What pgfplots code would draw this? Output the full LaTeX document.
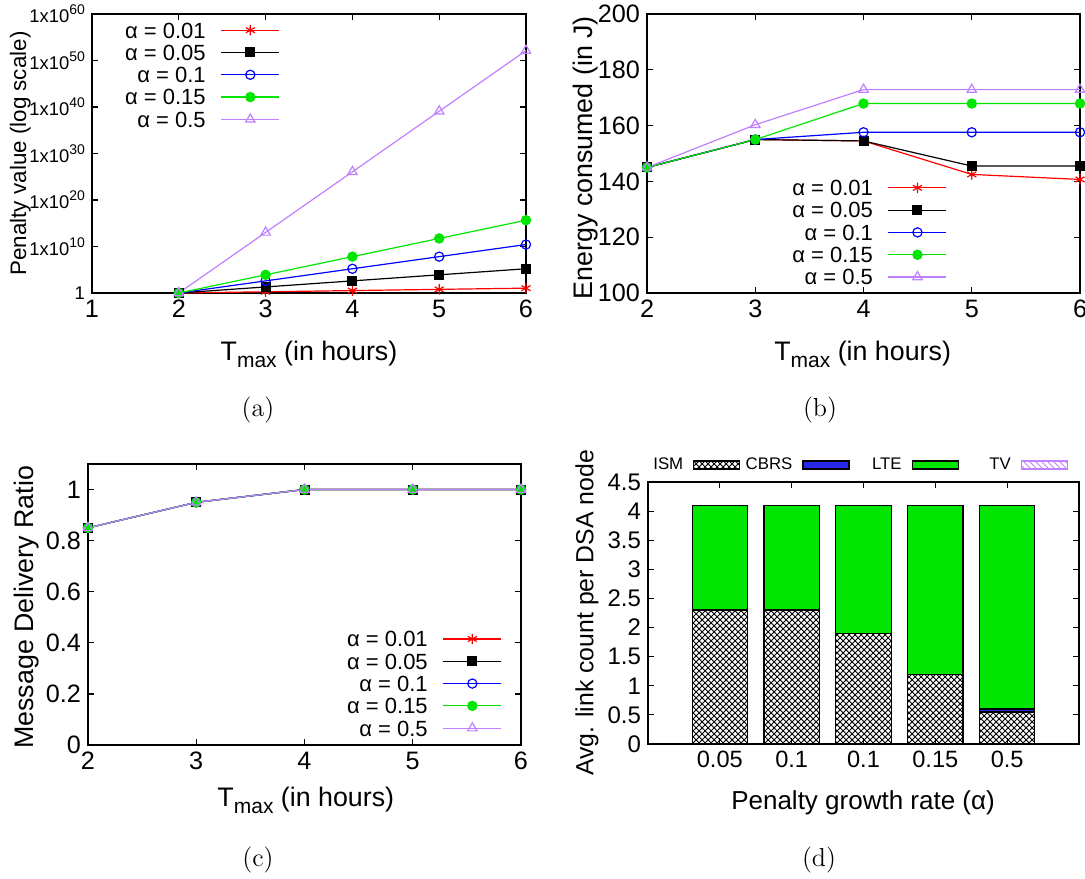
\documentclass[border=0pt]{standalone}
\usepackage{fontspec}
\setsansfont{Liberation Sans}
\usepackage{pgfplots}
\pgfplotsset{compat=1.18}
\usetikzlibrary{patterns}
\definecolor{cgreen}{RGB}{0,230,0}
\definecolor{cpurple}{RGB}{192,128,255}
\newcommand{\tp}[1]{1x10\raisebox{0.8ex}{\fontsize{7}{8}\selectfont #1}}
\pgfplotsset{
  gp/.style={
    scale only axis, anchor=south west, clip=false,
    axis line style={line width=0.75pt},
    every tick/.style={black, line width=0.6pt},
    major tick length=3pt,
    font=\sffamily,
    tick label style={font=\fontsize{12.6}{14}\selectfont\sffamily},
    label style={font=\fontsize{13.4}{16}\selectfont\sffamily},
    /pgf/number format/assume math mode=true,
    legend style={draw=none, fill=none, inner sep=0pt, outer sep=0pt,
      font=\fontsize{11}{13}\selectfont\sffamily,
      nodes={inner sep=0pt, text height=9.5pt, text depth=1.65pt},
      column sep=7.5pt, row sep=0pt},
    legend plot pos=right,
    legend cell align=right,
    legend image code/.code={\draw[mark repeat=2,mark phase=2,##1] plot coordinates {(0pt,0pt)(14.5pt,0pt)(29pt,0pt)};},
  },
  s1/.style={color=red, mark=asterisk, mark size=2.6pt, line width=0.6pt, mark options={solid}},
  s2/.style={color=black, mark=square*, mark size=2.2pt, line width=0.6pt},
  s3/.style={color=blue, mark=o, mark size=2.3pt, line width=0.6pt},
  s4/.style={color=cgreen, mark=*, mark size=2.3pt, line width=0.6pt},
  s5/.style={color=cpurple, mark=triangle, mark size=2.7pt, line width=0.6pt},
}
\begin{document}
\begin{tikzpicture}
\useasboundingbox (0,0) rectangle (542.5pt,439pt);
% ---------------- (a)
\begin{axis}[gp, at={(46pt,292.5pt)}, width=217pt, height=139.5pt,
  xmin=1, xmax=6, ymode=log, ymin=1, ymax=1e60,
  xtick={1,2,3,4,5,6},
  ytick={1,1e10,1e20,1e30,1e40,1e50,1e60}, minor ytick={},
  yticklabels={1,\tp{10},\tp{20},\tp{30},\tp{40},\tp{50},\tp{60}},
  yticklabel style={font=\fontsize{9.2}{10}\selectfont\sffamily},
  ylabel={Penalty value (log scale)},
  ylabel style={at={(axis description cs:-0.165,0.5)}, anchor=center, font=\fontsize{11.2}{13}\selectfont\sffamily},
  xlabel={T\raisebox{-0.5ex}{\fontsize{10.5}{12}\selectfont max} (in hours)},
  xlabel style={at={(axis description cs:0.5,-0.22)}, anchor=center},
  legend style={at={(axis description cs:0.433,0.982)}, anchor=north east},
]
\addplot[s1] coordinates {(2,1) (3,1.82) (4,3.32) (5,6.05) (6,11.0)};
\addlegendentry{α = 0.01}
\addplot[s2] coordinates {(2,1) (3,20.1) (4,403) (5,8100) (6,1.63e5)};
\addlegendentry{α = 0.05}
\addplot[s3] coordinates {(2,1) (3,403) (4,1.63e5) (5,6.6e7) (6,2.65e10)};
\addlegendentry{α = 0.1}
\addplot[s4] coordinates {(2,1) (3,8100) (4,6.6e7) (5,5.4e11) (6,4.4e15)};
\addlegendentry{α = 0.15}
\addplot[s5] coordinates {(2,1) (3,1.07e13) (4,1.15e26) (5,1.23e39) (6,1.32e52)};
\addlegendentry{α = 0.5}
\end{axis}
% ---------------- (b)
\begin{axis}[gp, at={(323.5pt,292.5pt)}, width=216.5pt, height=139.5pt,
  xmin=2, xmax=6, ymin=100, ymax=200,
  xtick={2,3,4,5,6}, ytick={100,120,140,160,180,200},
  ylabel={Energy consumed (in J)},
  ylabel style={at={(axis description cs:-0.141,0.485)}, anchor=center},
  xlabel={T\raisebox{-0.5ex}{\fontsize{10.5}{12}\selectfont max} (in hours)},
  xlabel style={at={(axis description cs:0.498,-0.22)}, anchor=center},
  legend style={at={(axis description cs:0.693,0.417)}, anchor=north east},
]
\addplot[s1] coordinates {(2,145) (3,155) (4,154.5) (5,142.5) (6,140.7)};
\addlegendentry{α = 0.01}
\addplot[s2] coordinates {(2,145) (3,155) (4,154.5) (5,145.5) (6,145.5)};
\addlegendentry{α = 0.05}
\addplot[s3] coordinates {(2,145) (3,155) (4,157.6) (5,157.6) (6,157.6)};
\addlegendentry{α = 0.1}
\addplot[s4] coordinates {(2,145) (3,155) (4,167.9) (5,167.9) (6,167.9)};
\addlegendentry{α = 0.15}
\addplot[s5] coordinates {(2,145) (3,160.3) (4,172.9) (5,172.9) (6,172.9)};
\addlegendentry{α = 0.5}
\end{axis}
% ---------------- (c)
\begin{axis}[gp, at={(44pt,66.5pt)}, width=216.5pt, height=140.5pt,
  xmin=2, xmax=6, ymin=0, ymax=1.1,
  xtick={2,3,4,5,6}, ytick={0,0.2,0.4,0.6,0.8,1},
  yticklabels={0,0.2,0.4,0.6,0.8,1},
  ylabel={Message Delivery Ratio},
  ylabel style={at={(axis description cs:-0.141,0.49)}, anchor=center},
  xlabel={T\raisebox{-0.5ex}{\fontsize{10.5}{12}\selectfont max} (in hours)},
  xlabel style={at={(axis description cs:0.503,-0.196)}, anchor=center},
  legend style={at={(axis description cs:0.956,0.417)}, anchor=north east},
]
\addplot[s1] coordinates {(2,0.85) (3,0.95) (4,1) (5,1) (6,1)};
\addlegendentry{α = 0.01}
\addplot[s2] coordinates {(2,0.85) (3,0.95) (4,1) (5,1) (6,1)};
\addlegendentry{α = 0.05}
\addplot[s3] coordinates {(2,0.85) (3,0.95) (4,1) (5,1) (6,1)};
\addlegendentry{α = 0.1}
\addplot[s4] coordinates {(2,0.85) (3,0.95) (4,1) (5,1) (6,1)};
\addlegendentry{α = 0.15}
\addplot[s5] coordinates {(2,0.85) (3,0.95) (4,1) (5,1) (6,1)};
\addlegendentry{α = 0.5}
\end{axis}
% ---------------- (d)
\begin{axis}[gp, at={(324pt,67pt)}, width=215.5pt, height=131pt,
  ybar stacked, bar width=27.7pt,
  xmin=0, xmax=6, ymin=0, ymax=4.5,
  xtick={1,2,3,4,5}, xticklabels={0.05,0.1,0.1,0.15,0.5},
  ytick={0,0.5,1,1.5,2,2.5,3,3.5,4,4.5},
  yticklabels={0,0.5,1,1.5,2,2.5,3,3.5,4,4.5},
  xticklabel style={font=\fontsize{11.8}{13}\selectfont\sffamily},
  yticklabel style={font=\fontsize{12}{13}\selectfont\sffamily},
  ylabel={Avg. link count per DSA node},
  ylabel style={at={(axis description cs:-0.1415,0.5)}, anchor=center, font=\fontsize{12.4}{15}\selectfont\sffamily},
  xlabel={Penalty growth rate (α)},
  xlabel style={at={(axis description cs:0.499,-0.225)}, anchor=center, font=\fontsize{13}{15}\selectfont\sffamily},
  legend columns=4,
  legend style={at={(axis description cs:0.9745,1.065)}, anchor=east,
    font=\fontsize{8.4}{9}\selectfont\sffamily,
    nodes={inner sep=0pt, text height=6.5pt, text depth=2pt},
    column sep=5pt,
    /tikz/every odd column/.style={text width=24pt, align=right},
    /tikz/column 2/.style={column sep=2pt},
    /tikz/column 4/.style={column sep=2pt},
    /tikz/column 6/.style={column sep=2pt}},
  legend image code/.code={\draw[#1,/tikz/.cd,line width=0.6pt] (0pt,-2pt) rectangle (23pt,2pt);},
]
\addplot[draw=black, line width=0.6pt, pattern=crosshatch, pattern color=black] coordinates {(1,2.3) (2,2.3) (3,1.9) (4,1.2) (5,0.55)};
\addlegendentry{ISM}
\addplot[draw=black, line width=0.6pt, fill={rgb,255:red,40;green,40;blue,235}] coordinates {(1,0) (2,0) (3,0) (4,0) (5,0.05)};
\addlegendentry{CBRS}
\addplot[draw=black, line width=0.6pt, fill=cgreen] coordinates {(1,1.8) (2,1.8) (3,2.2) (4,2.9) (5,3.5)};
\addlegendentry{LTE}
\addplot[draw=none, pattern=north west lines, pattern color=cpurple,
  legend image code/.code={\draw[pattern=north west lines, pattern color=cpurple, draw=cpurple, line width=0.6pt] (0pt,-2pt) rectangle (23pt,2pt);}]
  coordinates {(1,0) (2,0) (3,0) (4,0) (5,0)};
\addlegendentry{TV}
\end{axis}
% captions
\node[font=\fontsize{13}{15}\selectfont] at (129pt,234pt) {(a)};
\node[font=\fontsize{13}{15}\selectfont] at (410pt,234pt) {(b)};
\node[font=\fontsize{13}{15}\selectfont] at (129pt,9pt) {(c)};
\node[font=\fontsize{13}{15}\selectfont] at (409.5pt,9pt) {(d)};
\end{tikzpicture}
\end{document}
